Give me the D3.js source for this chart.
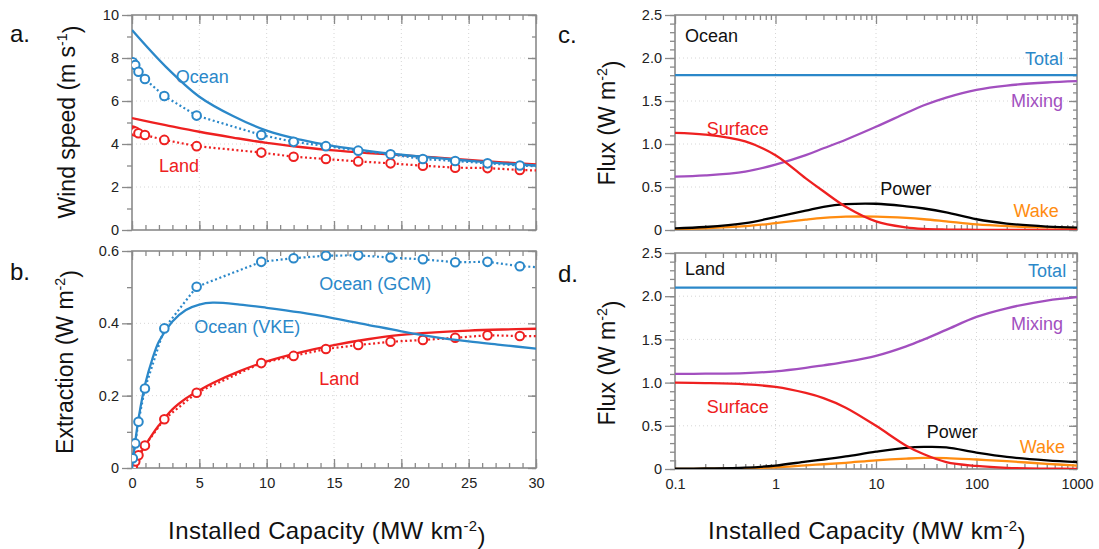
<!DOCTYPE html>
<html>
<head>
<meta charset="utf-8">
<script src="https://cdn.jsdelivr.net/npm/d3@7"></script>
<style>
  body { margin: 0; background: #fff; }
  text { font-family: "Liberation Sans", Arial, sans-serif; }
  .tick line { stroke: #8a8a8a; stroke-width: 1.3; }
  .tick text { font-size: 14.5px; fill: #222; }
</style>
</head>
<body>
<svg id="fig" width="1099" height="549"></svg>
<script>
// ---- data ----
// panel a: wind speed, smooth model (VKE) curves
var windCap = [0, 2.5, 5, 7.5, 10, 12.5, 15, 17.5, 20, 22.5, 25, 27.5, 30];
var oceanWindVKE = [9.3, 7.6, 6.2, 5.3, 4.62, 4.2, 3.9, 3.68, 3.5, 3.35, 3.22, 3.1, 3.0];
var landWindVKE = [5.2, 4.88, 4.57, 4.3, 4.05, 3.86, 3.7, 3.58, 3.48, 3.38, 3.26, 3.15, 3.05];

// GCM runs (circles, dotted), shared by panels a and b
var gcmCap = [0.06, 0.24, 0.48, 0.96, 2.4, 4.8, 9.6, 12, 14.4, 16.8, 19.2, 21.6, 24, 26.4, 28.8, 31.2];
var oceanWindGCM = [7.8, 7.67, 7.36, 7.02, 6.23, 5.32, 4.42, 4.1, 3.9, 3.69, 3.52, 3.3, 3.21, 3.1, 3.0, 2.93];
var landWindGCM = [4.62, 4.58, 4.5, 4.42, 4.19, 3.9, 3.6, 3.41, 3.3, 3.19, 3.1, 2.99, 2.9, 2.88, 2.79, 2.75];
var oceanExtGCM = [0.027, 0.068, 0.128, 0.22, 0.386, 0.501, 0.570, 0.580, 0.587, 0.588, 0.582, 0.577, 0.569, 0.570, 0.558, 0.553];
var landExtGCM = [0.005, 0.018, 0.035, 0.062, 0.135, 0.208, 0.29, 0.31, 0.329, 0.34, 0.349, 0.354, 0.36, 0.367, 0.365, 0.364];

// panel b: extraction, smooth model curves
var extCap = [0, 0.25, 0.5, 1, 1.5, 2, 3, 4, 5, 6, 8, 10, 12.5, 15, 17.5, 20, 22.5, 25, 27.5, 30];
var oceanExtVKE = [0, 0.075, 0.14, 0.235, 0.3, 0.35, 0.405, 0.437, 0.452, 0.457, 0.452, 0.443, 0.43, 0.414, 0.396, 0.378, 0.362, 0.35, 0.34, 0.33];
var landExtVKE = [0, 0.016, 0.032, 0.063, 0.092, 0.118, 0.162, 0.192, 0.215, 0.235, 0.268, 0.295, 0.32, 0.34, 0.356, 0.368, 0.375, 0.38, 0.383, 0.385];

// panels c, d: flux budget vs installed capacity (log axis)
var fluxCap = [0.1, 0.2, 0.5, 1, 2, 3, 5, 10, 20, 30, 50, 100, 200, 500, 1000];
var oceanTotal = 1.8;
var oceanSurface = [1.13, 1.11, 1.03, 0.87, 0.6, 0.45, 0.27, 0.1, 0.03, 0.012, 0.005, 0.002, 0.001, 0, 0];
var oceanMixing = [0.62, 0.635, 0.68, 0.76, 0.87, 0.95, 1.05, 1.2, 1.36, 1.45, 1.54, 1.63, 1.68, 1.715, 1.73];
var oceanPower = [0.02, 0.035, 0.08, 0.15, 0.225, 0.27, 0.3, 0.305, 0.275, 0.25, 0.205, 0.125, 0.075, 0.04, 0.027];
var oceanWake = [0.01, 0.02, 0.045, 0.08, 0.12, 0.14, 0.155, 0.155, 0.14, 0.125, 0.1, 0.065, 0.045, 0.03, 0.022];
var landTotal = 2.1;
var landSurface = [1.0, 0.995, 0.98, 0.95, 0.88, 0.82, 0.71, 0.5, 0.27, 0.17, 0.08, 0.035, 0.013, 0.004, 0.002];
var landMixing = [1.1, 1.103, 1.11, 1.13, 1.17, 1.2, 1.24, 1.31, 1.42, 1.5, 1.61, 1.76, 1.86, 1.95, 1.99];
var landPower = [0.003, 0.006, 0.015, 0.04, 0.085, 0.11, 0.145, 0.2, 0.245, 0.255, 0.25, 0.19, 0.14, 0.1, 0.08];
var landWake = [0.001, 0.003, 0.008, 0.02, 0.043, 0.055, 0.072, 0.1, 0.12, 0.128, 0.127, 0.11, 0.09, 0.06, 0.04];

var BLUE = "#2b88c9", RED = "#ee2020", PURPLE = "#a24fbf", ORANGE = "#ff8c10", BLACK = "#000";

var svg = d3.select("#fig");

// ---- helpers ----
function zip(xs, ys) { return xs.map(function(x, i) { return [x, ys[i]]; }); }

function sup(sel, main, s, tail) {
  sel.append("tspan").text(main);
  sel.append("tspan").attr("font-size", "0.62em").attr("dy", "-0.55em").text(s);
  sel.append("tspan").attr("dy", "0.55em").text(tail);
}

function frame(id, x, y, cfg) {
  var g = svg.append("g");
  var x0 = x.range()[0], x1 = x.range()[1], y0 = y.range()[0], y1 = y.range()[1];

  // dotted grid
  var grid = g.append("g").attr("stroke", "#d6d6d6").attr("stroke-width", 1).attr("stroke-dasharray", "1,3");
  grid.selectAll(".gx").data(cfg.xMajor.filter(function(v){ return v !== x.domain()[0] && v !== x.domain()[1]; }))
    .enter().append("line").attr("x1", x).attr("x2", x).attr("y1", y0).attr("y2", y1);
  grid.selectAll(".gy").data(cfg.yMajor.filter(function(v){ return v !== y.domain()[0] && v !== y.domain()[1]; }))
    .enter().append("line").attr("y1", y).attr("y2", y).attr("x1", x0).attr("x2", x1);

  // axes: left outward, others inward
  function put(axis, tx, ty) {
    var a = g.append("g").attr("transform", "translate(" + tx + "," + ty + ")").call(axis);
    a.select(".domain").remove();
    return a;
  }
  var noLab = function() { return ""; };
  put(d3.axisLeft(y).tickValues(cfg.yMinor).tickSize(5).tickFormat(noLab), x0, 0);
  put(d3.axisLeft(y).tickValues(cfg.yMajor).tickSize(10).tickPadding(3).tickFormat(cfg.yFmt), x0, 0);
  put(d3.axisRight(y).tickValues(cfg.yMinor).tickSize(-4).tickFormat(noLab), x1, 0);
  put(d3.axisRight(y).tickValues(cfg.yMajor).tickSize(-8).tickFormat(noLab), x1, 0);
  put(d3.axisTop(x).tickValues(cfg.xMinor).tickSize(-5).tickFormat(noLab), 0, y1);
  put(d3.axisTop(x).tickValues(cfg.xMajor).tickSize(-9).tickFormat(noLab), 0, y1);
  put(d3.axisBottom(x).tickValues(cfg.xMinor).tickSize(-5).tickFormat(noLab), 0, y0);
  put(d3.axisBottom(x).tickValues(cfg.xMajor).tickSize(-9).tickPadding(10)
      .tickFormat(cfg.xLabels ? cfg.xFmt : noLab), 0, y0);

  g.append("rect").attr("x", x0).attr("y", y1).attr("width", x1 - x0).attr("height", y0 - y1)
    .attr("fill", "none").attr("stroke", "#8a8a8a").attr("stroke-width", 1.6);

  svg.append("clipPath").attr("id", id).append("rect")
    .attr("x", x0).attr("y", y1).attr("width", x1 - x0).attr("height", y0 - y1);
  return svg.append("g").attr("clip-path", "url(#" + id + ")");
}

function curve(g, x, y, pts, color, dotted, smooth) {
  var line = d3.line().x(function(d){ return x(d[0]); }).y(function(d){ return y(d[1]); })
    .curve(smooth ? d3.curveCatmullRom.alpha(0.5) : d3.curveLinear);
  g.append("path").datum(pts).attr("d", line).attr("fill", "none")
    .attr("stroke", color).attr("stroke-width", dotted ? 2.2 : 2.3)
    .attr("stroke-dasharray", dotted ? "2,2.6" : null);
}

function circles(g, x, y, pts, color) {
  g.selectAll(null).data(pts).enter().append("circle")
    .attr("cx", function(d){ return x(d[0]); }).attr("cy", function(d){ return y(d[1]); })
    .attr("r", 4.3).attr("fill", "#fff").attr("stroke", color).attr("stroke-width", 2);
}

function label(x, y, xv, yv, txt, color, anchor) {
  svg.append("text").attr("x", x(xv)).attr("y", y(yv)).attr("font-size", 18)
    .attr("fill", color).attr("text-anchor", anchor || "start").text(txt);
}

function yTitle(cx, cy, main, s) {
  var t = svg.append("text").attr("transform", "translate(" + cx + "," + cy + ") rotate(-90)")
    .attr("text-anchor", "middle").attr("font-size", 23).attr("fill", "#111");
  sup(t, main, s, ")");
}

function letter(px, py, s) {
  svg.append("text").attr("x", px).attr("y", py).attr("font-size", 24).attr("fill", "#111").text(s);
}

var linX = d3.range(0, 31, 5), linXMinor = d3.range(0, 31, 1);
var logMajor = [0.1, 1, 10, 100, 1000];
var logMinor = [];
[0.1, 1, 10, 100].forEach(function(d) { for (var k = 2; k < 10; k++) logMinor.push(d * k); });
var fluxMajor = [0, 0.5, 1, 1.5, 2, 2.5];
var fluxMinor = d3.range(0, 2.51, 0.1);
var fmtFlux = function(v) { return v === 0 ? "0" : d3.format(".1f")(v); };

// ---- panel a ----
var xa = d3.scaleLinear().domain([0, 30]).range([132, 536]);
var ya = d3.scaleLinear().domain([0, 10]).range([230, 15]);
var ga = frame("clipA", xa, ya, { xMajor: linX, xMinor: linXMinor, yMajor: d3.range(0, 11, 2),
  yMinor: d3.range(0, 11, 1), yFmt: d3.format("d"), xLabels: false });
curve(ga, xa, ya, zip(windCap, landWindVKE), RED, false, true);
curve(ga, xa, ya, zip(gcmCap, landWindGCM), RED, true, false);
circles(ga, xa, ya, zip(gcmCap, landWindGCM), RED);
curve(ga, xa, ya, zip(windCap, oceanWindVKE), BLUE, false, true);
curve(ga, xa, ya, zip(gcmCap, oceanWindGCM), BLUE, true, false);
circles(ga, xa, ya, zip(gcmCap, oceanWindGCM), BLUE);
label(xa, ya, 3.25, 6.84, "Ocean", BLUE);
label(xa, ya, 2.0, 2.71, "Land", RED);

// ---- panel b ----
var xb = d3.scaleLinear().domain([0, 30]).range([132, 536]);
var yb = d3.scaleLinear().domain([0, 0.6]).range([468, 251]);
var gb = frame("clipB", xb, yb, { xMajor: linX, xMinor: linXMinor, yMajor: [0, 0.2, 0.4, 0.6],
  yMinor: d3.range(0, 0.61, 0.1), yFmt: function(v){ return v === 0 ? "0" : d3.format(".1f")(v); },
  xLabels: true, xFmt: d3.format("d") });
curve(gb, xb, yb, zip(extCap, landExtVKE), RED, false, true);
curve(gb, xb, yb, zip([0].concat(gcmCap), [0].concat(landExtGCM)), RED, true, false);
circles(gb, xb, yb, zip([0].concat(gcmCap), [0].concat(landExtGCM)), RED);
curve(gb, xb, yb, zip(extCap, oceanExtVKE), BLUE, false, true);
curve(gb, xb, yb, zip([0].concat(gcmCap), [0].concat(oceanExtGCM)), BLUE, true, false);
circles(gb, xb, yb, zip(gcmCap, oceanExtGCM), BLUE);
label(xb, yb, 13.9, 0.492, "Ocean (GCM)", BLUE);
label(xb, yb, 4.62, 0.374, "Ocean (VKE)", BLUE);
label(xb, yb, 13.9, 0.229, "Land", RED);

// ---- panel c ----
var xc = d3.scaleLog().domain([0.1, 1000]).range([675, 1077]);
var yc = d3.scaleLinear().domain([0, 2.5]).range([230, 15]);
var gc = frame("clipC", xc, yc, { xMajor: logMajor, xMinor: logMinor, yMajor: fluxMajor,
  yMinor: fluxMinor, yFmt: fmtFlux, xLabels: false });
curve(gc, xc, yc, [[0.1, oceanTotal], [1000, oceanTotal]], BLUE, false, false);
curve(gc, xc, yc, zip(fluxCap, oceanMixing), PURPLE, false, true);
curve(gc, xc, yc, zip(fluxCap, oceanWake), ORANGE, false, true);
curve(gc, xc, yc, zip(fluxCap, oceanPower), BLACK, false, true);
curve(gc, xc, yc, zip(fluxCap, oceanSurface), RED, false, true);
label(xc, yc, 0.126, 2.19, "Ocean", "#111");
label(xc, yc, 0.207, 1.10, "Surface", RED);
label(xc, yc, 725, 1.92, "Total", BLUE, "end");
label(xc, yc, 725, 1.43, "Mixing", PURPLE, "end");
label(xc, yc, 11, 0.41, "Power", "#111");
label(xc, yc, 660, 0.155, "Wake", ORANGE, "end");

// ---- panel d ----
var xd = d3.scaleLog().domain([0.1, 1000]).range([675, 1077]);
var yd = d3.scaleLinear().domain([0, 2.5]).range([469, 253]);
var gd = frame("clipD", xd, yd, { xMajor: logMajor, xMinor: logMinor, yMajor: fluxMajor,
  yMinor: fluxMinor, yFmt: fmtFlux, xLabels: true, xFmt: function(v){ return String(v); } });
curve(gd, xd, yd, [[0.1, landTotal], [1000, landTotal]], BLUE, false, false);
curve(gd, xd, yd, zip(fluxCap, landMixing), PURPLE, false, true);
curve(gd, xd, yd, zip(fluxCap, landWake), ORANGE, false, true);
curve(gd, xd, yd, zip(fluxCap, landPower), BLACK, false, true);
curve(gd, xd, yd, zip(fluxCap, landSurface), RED, false, true);
label(xd, yd, 0.126, 2.24, "Land", "#111");
label(xd, yd, 0.207, 0.645, "Surface", RED);
label(xd, yd, 780, 2.22, "Total", BLUE, "end");
label(xd, yd, 725, 1.605, "Mixing", PURPLE, "end");
label(xd, yd, 32, 0.355, "Power", "#111");
label(xd, yd, 760, 0.18, "Wake", ORANGE, "end");

// ---- titles and panel letters ----
yTitle(75, 122, "Wind speed (m s", "-1");
yTitle(73, 362, "Extraction (W m", "-2");
yTitle(615, 123, "Flux (W m", "-2");
yTitle(615, 363, "Flux (W m", "-2");

[[327, 539], [867, 539]].forEach(function(p) {
  var t = svg.append("text").attr("x", p[0]).attr("y", p[1]).attr("text-anchor", "middle")
    .attr("font-size", 24).attr("letter-spacing", 0.4).attr("fill", "#111");
  sup(t, "Installed Capacity (MW km", "-2", ")");
});

letter(10, 42, "a.");
letter(10, 280, "b.");
letter(558, 43, "c.");
letter(558, 282, "d.");
</script>
</body>
</html>
